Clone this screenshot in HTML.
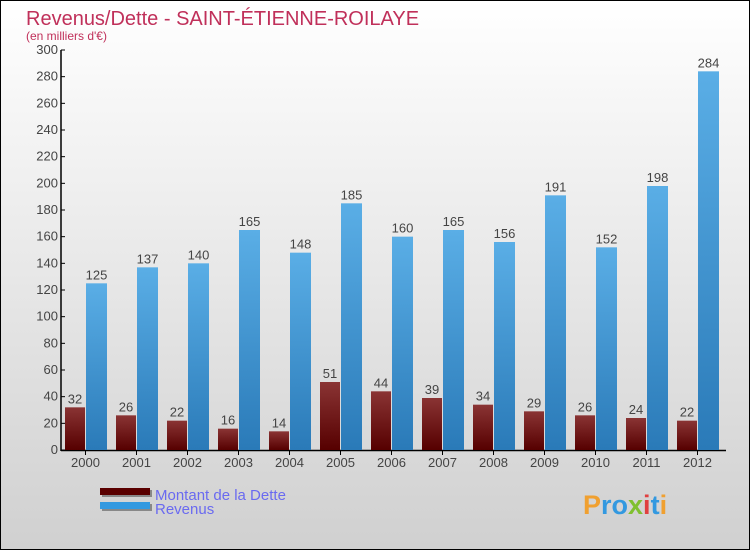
<!DOCTYPE html>
<html><head><meta charset="utf-8"><style>
body{margin:0}
svg{display:block;font-family:"Liberation Sans",sans-serif}
</style></head><body>
<svg width="750" height="550" viewBox="0 0 750 550">
<defs>
<linearGradient id="bg" x1="0" y1="0" x2="0" y2="1"><stop offset="0" stop-color="#ffffff"/><stop offset="1" stop-color="#d0d0d0"/></linearGradient>
<linearGradient id="gd" x1="0" y1="0" x2="0" y2="1"><stop offset="0" stop-color="#8a3434"/><stop offset="1" stop-color="#560000"/></linearGradient>
<linearGradient id="gr" x1="0" y1="0" x2="0" y2="1"><stop offset="0" stop-color="#5aaee6"/><stop offset="1" stop-color="#2a7ab8"/></linearGradient>
</defs>
<rect x="0.5" y="0.5" width="749" height="549" fill="url(#bg)" stroke="#000"/>
<text x="26" y="25" font-size="20" fill="#c0305a">Revenus/Dette - SAINT-ÉTIENNE-ROILAYE</text>
<text x="26" y="40" font-size="12" fill="#c0305a">(en milliers d'€)</text>
<g id="axes"></g>
<g id="bars"></g>
<g>
<rect x="102" y="490" width="50" height="7" fill="#888"/><rect x="100" y="488" width="50" height="7" fill="#5a0000"/>
<text x="155" y="500" font-size="15" fill="#6a6af0">Montant de la Dette</text>
<rect x="102" y="504" width="50" height="7" fill="#888"/><rect x="100" y="502" width="50" height="7" fill="#3399e0"/>
<text x="155" y="514" font-size="15" fill="#6a6af0">Revenus</text>
</g>
<text x="583" y="514" font-size="27" font-weight="bold"><tspan fill="#f0a030">P</tspan><tspan fill="#3399e0">ro</tspan><tspan fill="#80c030">x</tspan><tspan fill="#e04040">i</tspan><tspan fill="#3399e0">t</tspan><tspan fill="#f0a030">i</tspan></text>
</svg>
<script>
const years=["2000","2001","2002","2003","2004","2005","2006","2007","2008","2009","2010","2011","2012"];
const debt=[32,26,22,16,14,51,44,39,34,29,26,24,22];
const revenue=[125,137,140,165,148,185,160,165,156,191,152,198,284];
const yTicks=[0,20,40,60,80,100,120,140,160,180,200,220,240,260,280,300];
const NS="http://www.w3.org/2000/svg";
const y0=450,yScale=400/300,x0=62,step=51;
const yPos=v=>y0-v*yScale;
const xPos=i=>x0+step*i;
function mk(t,a,p){const e=document.createElementNS(NS,t);for(const k in a)e.setAttribute(k,a[k]);p.appendChild(e);return e;}
const ax=document.getElementById('axes'),bg=document.getElementById('bars');
const yl=mk('line',{x1:61,y1:50,x2:61,y2:451,stroke:'#000','stroke-width':1.5},ax);


const xl=mk('line',{x1:61,y1:450.5,x2:726,y2:450.5,stroke:'#000','stroke-width':1.5},ax);


yTicks.forEach(v=>{
 mk('line',{x1:61,x2:65,y1:yPos(v),y2:yPos(v),stroke:'#000'},ax);
 const t=mk('text',{x:58,y:yPos(v)+4,'font-size':13,'text-anchor':'end',fill:'#444'},ax);
 t.textContent=v;
 
 
});
years.forEach((yr,i)=>{
 const gx=xPos(i);
 mk('line',{x1:gx+23.5,x2:gx+23.5,y1:450,y2:455,stroke:'#000'},ax);
 const t=mk('text',{x:gx+23.5,y:467,'font-size':13,'text-anchor':'middle',fill:'#444'},ax);
 t.textContent=yr;
 
 
 const d=mk('rect',{x:gx+3,y:yPos(debt[i]),width:20,height:debt[i]*yScale,fill:'url(#gd)'},bg);
 
 
 const r=mk('rect',{x:gx+24,y:yPos(revenue[i]),width:21,height:revenue[i]*yScale,fill:'url(#gr)'},bg);
 
 
 const dl=mk('text',{x:gx+13,y:yPos(debt[i])-4,'font-size':13,'text-anchor':'middle',fill:'#444'},bg);
 dl.textContent=debt[i];
 
 
 const rl=mk('text',{x:gx+34.5,y:yPos(revenue[i])-4,'font-size':13,'text-anchor':'middle',fill:'#444'},bg);
 rl.textContent=revenue[i];
 
 
});
</script>
</body></html>
